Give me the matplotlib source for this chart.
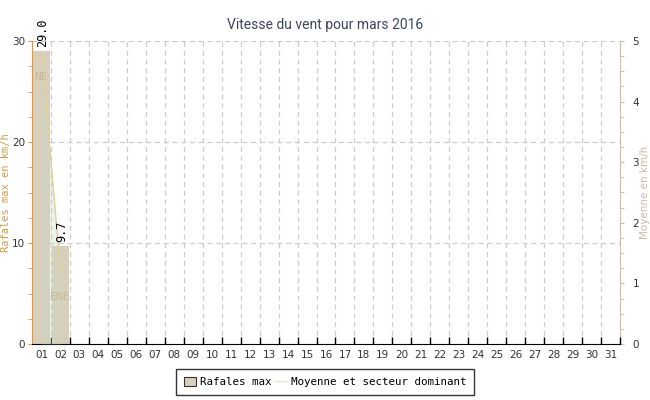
import matplotlib
matplotlib.use("Agg")
import matplotlib.pyplot as plt
from matplotlib.ticker import MultipleLocator, FixedLocator
from matplotlib.patches import Patch
from matplotlib.lines import Line2D

days = [f"{d:02d}" for d in range(1, 32)]
gusts = [29.0, 9.7]          # Rafales max (km/h)
means = [4.83, 1.2]          # Moyenne (km/h)
sectors = ["NE", "ENE"]

mono = "DejaVu Sans Mono"
bar_color = "#d8cebc"
left_color = "#d19a55"
right_color = "#c8bca8"

fig = plt.figure(figsize=(6.5, 4.0), dpi=100)
ax = fig.add_axes([32/650, 56/400, 588/650, 303/400])
ax2 = ax.twinx()
ax.set_zorder(ax2.get_zorder() + 1)
ax.patch.set_visible(False)

x = list(range(len(days)))
ax.set_xlim(-0.5, len(days) - 0.5)
ax.set_ylim(0, 30)
ax2.set_ylim(0, 5)

# grid
for b in [i + 0.5 for i in range(len(days) - 1)]:
    ax2.axvline(b, color="#cccccc", lw=0.9, ls=(0, (4, 3)), zorder=0)
for yv in [10, 20, 30]:
    ax2.axhline(yv / 6, color="#cccccc", lw=0.9, ls=(0, (4, 3)), zorder=0)

# bars
ax.bar(x[:len(gusts)], gusts, width=0.9, color=bar_color, zorder=2)
for xi, g in zip(x, gusts):
    ax.text(xi + 0.05, g + 0.4, f"{g:.1f}", rotation=90, ha="center", va="bottom",
            fontsize=8.5, family=mono, color="black", zorder=5)

# mean line + fill
mx = x[:len(means)]
ax.fill_between(mx, [m * 6 for m in means], 0, color="#c8dcc0", alpha=0.35, lw=0, zorder=3)
ax.plot(mx, [m * 6 for m in means], color="#e2cf9a", lw=1.0, zorder=4)
for xi, m, s in zip(mx, means, sectors):
    ax.text(xi, m * 6 - 2.5, s, ha="center", va="center", fontsize=8,
            family=mono, color="#c8b89c", zorder=5)

# axes styling
ax.set_xticks([i + 0.5 for i in range(len(days) - 1)] + [len(days) - 0.5])
ax.set_xticklabels([])
ax.xaxis.set_minor_locator(FixedLocator(x))
ax.set_xticklabels(days, minor=True)
ax.tick_params(axis="x", which="major", direction="in", length=5, color="black", width=1)
ax.tick_params(axis="x", which="minor", length=0, labelsize=7.5, pad=4, labelcolor="#333333")

ax.yaxis.set_major_locator(MultipleLocator(10))
ax.yaxis.set_minor_locator(MultipleLocator(2.5))
ax.tick_params(axis="y", which="both", color=left_color, labelsize=7.5, direction="out",
               labelcolor="#333333")
ax.tick_params(axis="y", which="major", length=3, pad=2)
ax.tick_params(axis="y", which="minor", length=3)

ax2.yaxis.set_major_locator(MultipleLocator(1))
ax2.yaxis.set_minor_locator(MultipleLocator(0.25))
ax2.tick_params(axis="y", which="both", color=right_color, labelsize=7.5, direction="out",
                labelcolor="#333333")
ax2.tick_params(axis="y", which="major", length=3, pad=6)
ax2.tick_params(axis="y", which="minor", length=3)

for a in (ax, ax2):
    for s in a.spines.values():
        s.set_visible(False)
ax.spines["left"].set_visible(True)
ax.spines["left"].set_color(left_color)
ax.spines["bottom"].set_visible(True)
ax.spines["bottom"].set_color("black")
ax2.spines["right"].set_visible(True)
ax2.spines["right"].set_color(right_color)

ax.set_ylabel("Rafales max en km/h", color=left_color, family=mono, fontsize=7.5)
ax.yaxis.set_label_coords((11 - 32) / 588, 0.5)
ax2.set_ylabel("Moyenne en km/h", color=right_color, fontsize=7.5)
ax2.yaxis.set_label_coords((640 - 32) / 588, 0.5)

fig.suptitle("Vitesse du vent pour mars 2016", x=0.5, y=0.955, fontsize=10,
             color="#3a4660", family="Roboto")

handles = [Patch(facecolor=bar_color, edgecolor="#333333", lw=0.8),
           Line2D([0], [0], color="#eae2cc", lw=1)]
leg = fig.legend(handles, ["Rafales max", "Moyenne et secteur dominant"],
                 loc="center", bbox_to_anchor=(325/650, 1 - 382/400), ncol=2,
                 frameon=True, fancybox=False, edgecolor="black",
                 prop={"family": mono, "size": 7.8}, handlelength=1.1, handleheight=1.0,
                 handletextpad=0.4, columnspacing=0.3, borderpad=0.7)
leg.get_frame().set_linewidth(1.0)

fig.savefig("out.png", dpi=100)
